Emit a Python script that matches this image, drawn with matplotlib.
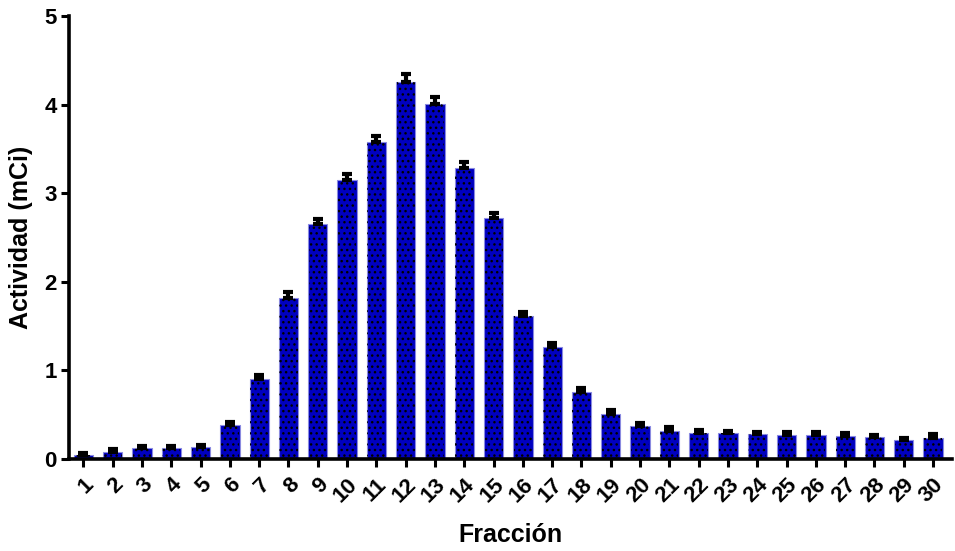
import matplotlib
matplotlib.use("Agg")
from matplotlib import pyplot as plt
import numpy as np

plt.rcParams["font.family"] = ["Liberation Sans", "DejaVu Sans"]
plt.rcParams["font.weight"] = "bold"
plt.rcParams["hatch.linewidth"] = 1.0
plt.rcParams["hatch.color"] = "black"

# fraction number and measured activity (mCi) with SEM
fracciones = np.arange(1, 31)
actividad = [0.04, 0.08, 0.12, 0.12, 0.13, 0.38, 0.90, 1.82, 2.65, 3.15,
             3.58, 4.26, 4.01, 3.28, 2.72, 1.61, 1.26, 0.76, 0.51, 0.37,
             0.32, 0.29, 0.29, 0.28, 0.27, 0.27, 0.26, 0.245, 0.21, 0.24]
error = [0.03, 0.03, 0.03, 0.03, 0.03, 0.04, 0.05, 0.06, 0.06, 0.07,
         0.07, 0.08, 0.07, 0.07, 0.06, 0.05, 0.05, 0.04, 0.04, 0.04,
         0.04, 0.04, 0.03, 0.03, 0.03, 0.03, 0.03, 0.03, 0.03, 0.04]

fig = plt.figure(figsize=(9.55, 5.51), dpi=100)
ax = fig.add_axes([0.0723, 0.167, 0.925, 0.804])

ax.bar(fracciones, actividad, width=0.66, color="#0000c0",
       edgecolor="#8a8ae0", linewidth=0.8, zorder=2)
ax.bar(fracciones, actividad, width=0.62, color="none",
       edgecolor="black", linewidth=0, hatch="...", zorder=3)
ax.errorbar(fracciones, actividad, yerr=[np.zeros(30), error], fmt="none",
            ecolor="black", elinewidth=3, capsize=3.5, capthick=3, zorder=4)

ax.set_xlim(0.51, 30.66)
ax.set_ylim(0, 5)
ax.set_yticks(range(6))
ax.set_xticks(fracciones)
ax.set_xticklabels([str(f) for f in fracciones], rotation=45, ha="right",
                   rotation_mode="anchor", fontsize=16, fontweight="bold")
ax.tick_params(axis="y", labelsize=16, width=2.2, length=6, pad=3)
ax.tick_params(axis="x", width=2.2, length=6, pad=5)
for lbl in ax.get_yticklabels():
    lbl.set_fontweight("bold")

for side in ["top", "right"]:
    ax.spines[side].set_visible(False)
for side in ["left", "bottom"]:
    ax.spines[side].set_linewidth(2.6)

ax.set_xlabel("Fracción", fontsize=18, fontweight="bold", labelpad=12)
ax.set_ylabel("Actividad (mCi)", fontsize=18, fontweight="bold", labelpad=8)

fig.savefig("out.png", dpi=100)
